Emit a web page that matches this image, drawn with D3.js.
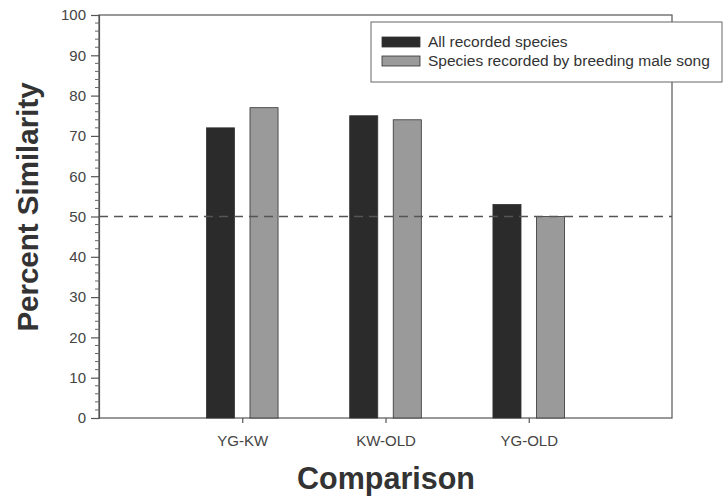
<!DOCTYPE html>
<html><head><meta charset="utf-8">
<script src="https://cdn.jsdelivr.net/npm/d3@7"></script>
<style>body{margin:0;background:#fff}svg{display:block}</style>
</head><body>
<script>
const categories = ["YG-KW", "KW-OLD", "YG-OLD"];
const seriesNames = ["All recorded species", "Species recorded by breeding male song"];
const allSpecies = [72, 75, 53];
const songSpecies = [77, 74, 50];
const yTicks = [0, 10, 20, 30, 40, 50, 60, 70, 80, 90, 100];
const refLine = 50;

const W = 726, H = 498;
const m = {left: 99, right: 672, top: 15, bottom: 418};
const colors = ["#2b2b2b", "#9a9a9a"];
const series = [allSpecies, songSpecies];

const svg = d3.select("body").append("svg").attr("width", W).attr("height", H)
  .style("font-family", "Arial, 'Liberation Sans', sans-serif");

const x = d3.scaleLinear().domain([0, categories.length + 1]).range([m.left, m.right]);
const y = d3.scaleLinear().domain([0, 100]).range([m.bottom, m.top]);

// plot frame
svg.append("rect").attr("x", m.left).attr("y", m.top)
  .attr("width", m.right - m.left).attr("height", m.bottom - m.top)
  .attr("fill", "none").attr("stroke", "#555").attr("stroke-width", 1.2);

// bars
const barW = 0.196, off = 0.152;
series.forEach((vals, si) => {
  svg.append("g").selectAll("rect").data(vals).join("rect")
    .attr("x", (d, i) => x(i + 1 + (si === 0 ? -off : off) - barW / 2))
    .attr("width", x(barW) - x(0))
    .attr("y", d => y(d))
    .attr("height", d => y(0) - y(d))
    .attr("fill", colors[si]).attr("stroke", "#333").attr("stroke-width", 0.8);
});

// dashed reference line
svg.append("line").attr("x1", m.left).attr("x2", m.right)
  .attr("y1", y(refLine)).attr("y2", y(refLine))
  .attr("stroke", "#555").attr("stroke-width", 1.3).attr("stroke-dasharray", "9,6");

// y axis
const yAxis = svg.append("g").attr("transform", `translate(${m.left},0)`)
  .call(d3.axisLeft(y).tickValues(yTicks).tickSize(8).tickPadding(5).tickFormat(d3.format("d")));
yAxis.select(".domain").attr("stroke", "#555").attr("stroke-width", 1.2);
yAxis.selectAll(".tick line").attr("stroke", "#555").attr("stroke-width", 1.2);
yAxis.selectAll("text").attr("font-size", 15).attr("fill", "#444");
// minor ticks
const minor = d3.range(0, 101, 2).filter(v => v % 10 !== 0);
svg.append("g").selectAll("line").data(minor).join("line")
  .attr("x1", m.left - 4).attr("x2", m.left + 1)
  .attr("y1", d => y(d)).attr("y2", d => y(d))
  .attr("stroke", "#666").attr("stroke-width", 1);

// x axis
const xAxis = svg.append("g").attr("transform", `translate(0,${m.bottom})`)
  .call(d3.axisBottom(x).tickValues(categories.map((c, i) => i + 1))
    .tickFormat((d) => categories[d - 1]).tickSize(5).tickPadding(12));
xAxis.select(".domain").remove();
xAxis.selectAll(".tick line").attr("stroke", "#555").attr("stroke-width", 1.2);
xAxis.selectAll("text").attr("font-size", 15).attr("fill", "#444");

// axis titles
svg.append("text").attr("transform", `translate(38,${207}) rotate(-90)`)
  .attr("text-anchor", "middle").attr("font-size", 29.5).attr("font-weight", "bold")
  .attr("fill", "#333").text("Percent Similarity");
svg.append("text").attr("x", 386).attr("y", 489)
  .attr("text-anchor", "middle").attr("font-size", 30.5).attr("font-weight", "bold")
  .attr("fill", "#333").text("Comparison");

// legend
const lg = svg.append("g");
lg.append("rect").attr("x", 371).attr("y", 22).attr("width", 351).attr("height", 60)
  .attr("fill", "#fff").attr("stroke", "#666").attr("stroke-width", 1);
seriesNames.forEach((n, i) => {
  lg.append("rect").attr("x", 382).attr("y", 37 + i * 19).attr("width", 38).attr("height", 10)
    .attr("fill", colors[i]).attr("stroke", "#333").attr("stroke-width", 0.8);
  lg.append("text").attr("x", 428).attr("y", 47 + i * 19).attr("font-size", 15.5)
    .attr("fill", "#333").text(n);
});
</script>
</body></html>
